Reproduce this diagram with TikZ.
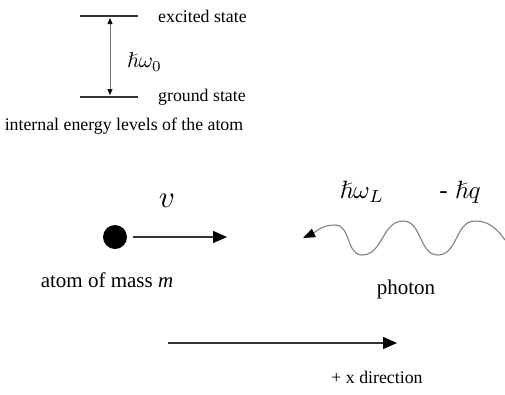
\documentclass[tikz,border=0pt]{standalone}
\usepackage{amsmath,amssymb}
\usepackage{graphicx}
\usepackage{fontspec}
\setmainfont{Liberation Serif}
\usetikzlibrary{arrows.meta,positioning}

\begin{document}
\begin{tikzpicture}[
    x=1pt, y=-1pt,
    level/.style={line width=1.3pt, draw=black!80},
    gap/.style={<->, line width=0.6pt, draw=black!55, >={Triangle[length=6pt,width=5pt,fill=black,color=black]}},
    move/.style={->, line width=1.3pt, draw=black!80, >={Triangle[length=14pt,width=12pt,color=black]}},
    wave/.style={->, line width=1.1pt, draw=black!50, >={Triangle[length=12pt,width=9pt,color=black]}},
    txt/.style={inner sep=0pt, font=\fontsize{17.8}{20}\selectfont},
    big/.style={inner sep=0pt, font=\fontsize{21}{24}\selectfont},
    sym/.style={inner sep=0pt}
]
\useasboundingbox (0,0) rectangle (505,394);

% Energy levels
\coordinate (ex1) at (80,16);
\coordinate (ex2) at (138,16);
\coordinate (gr1) at (80,97);
\coordinate (gr2) at (138,97);
\draw[level] (ex1) -- (ex2);
\draw[level] (gr1) -- (gr2);
\coordinate (gtop) at (110,18);
\coordinate (gbot) at (110,95);
\draw[gap] (gtop) -- (gbot);

\node[txt, right=20pt of ex2] (exc) {excited state};
\node[txt, right=20pt of gr2] (gnd) {ground state};
\node[sym, anchor=west] (hw0) at (127,62) {\scalebox{2.15}{$\hslash\omega_0$}};
\node[txt] (levels) at (124,126) {internal energy levels of the atom};

% Atom moving right
\node[circle, fill=black, minimum size=24pt, inner sep=0pt] (atom) at (115,237) {};
\coordinate (vtip) at (227,237);
\draw[move, shorten <=6pt] (atom.east) -- (vtip);
\node[sym] (vel) at (167,201) {\scalebox{3.1}{$v$}};
\node[big] (mass) at (107,280) {atom of mass \textit{m}};

% Photon moving left
\coordinate (wstart) at (505,240);
\coordinate (ptip) at (303,238);
\draw[wave] (wstart) to[out=125,in=0] (475,221) to[out=180,in=0] (438,255)
    to[out=180,in=0] (403,221) to[out=180,in=0] (362,255)
    to[out=180,in=0] (335,225) to[out=180,in=25] (ptip);
\node[sym] (hwl) at (362,192) {\scalebox{2.5}{$\hslash\omega_L$}};
\node[sym] (hq) at (460,192) {\scalebox{2.5}{-\hspace{0.3em}$\hslash q$}};
\node[big] (phot) at (406,289) {photon};

% x direction
\coordinate (xa) at (168,343);
\coordinate (xb) at (397,343);
\draw[move] (xa) -- (xb);
\node[txt] (xdir) at (377,377) {+ x direction};

\end{tikzpicture}
\end{document}
